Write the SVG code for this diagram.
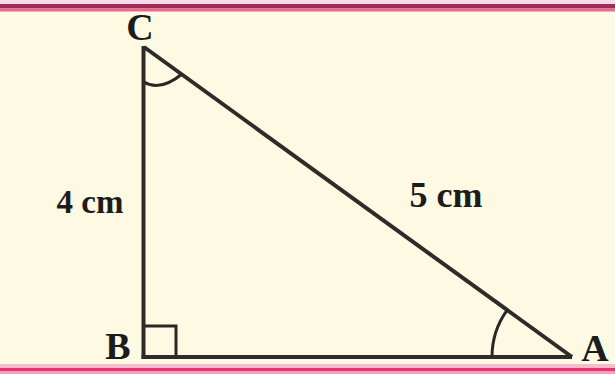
<svg xmlns="http://www.w3.org/2000/svg" width="615" height="374" viewBox="0 0 615 374">
  <style>
    .lbl { font-family: "Liberation Serif", "Times New Roman", serif; font-weight: bold; fill: #1c1c1c; }
    .vx { font-size: 38px; }
    .len { font-size: 33px; }
    .side { stroke: #2e2c28; stroke-width: 4; fill: none; stroke-linecap: butt; }
    .mark { stroke: #2a2824; stroke-width: 3; fill: none; }
  </style>
  <rect x="0" y="0" width="615" height="374" fill="#fef9e2"/>
  <g id="frame">
    <rect x="0" y="0" width="615" height="4" fill="#f6dcea"/>
    <rect x="0" y="4" width="615" height="4.5" fill="#a52b53"/>
    <rect x="0" y="8.5" width="615" height="3" fill="#e46a93"/>
    <rect x="0" y="364" width="615" height="4" fill="#f6bccd"/>
    <rect x="0" y="368" width="615" height="3.5" fill="#e9356f"/>
    <rect x="0" y="371.5" width="615" height="2.5" fill="#f3a2bd"/>
  </g>
  <g id="triangle">
    <line class="side" x1="143.5" y1="46" x2="143.5" y2="359"/>
    <line class="side" x1="141.5" y1="357" x2="572" y2="357"/>
    <line class="side" x1="144" y1="47" x2="572" y2="357" stroke="#1a1a1a" stroke-width="3.5"/>
  </g>
  <g id="angle-marks">
    <path class="mark" d="M145,326 H176 V357"/>
    <path class="mark" d="M144,82 Q160,92 182,74"/>
    <path class="mark" d="M492,357 A80,80 0 0 1 507.5,309.6"/>
  </g>
  <g id="labels">
    <text class="lbl vx" x="140" y="40" text-anchor="middle">C</text>
    <text class="lbl vx" x="118" y="359" text-anchor="middle">B</text>
    <text class="lbl vx" x="595" y="361" text-anchor="middle">A</text>
    <text class="lbl len" x="90" y="213" text-anchor="middle">4 cm</text>
    <text class="lbl len" x="446" y="207" text-anchor="middle" style="font-size:36px">5 cm</text>
  </g>
</svg>
